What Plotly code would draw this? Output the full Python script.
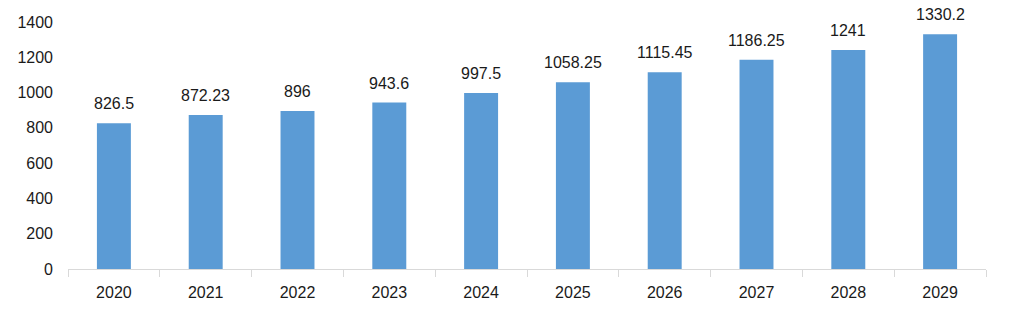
import plotly.graph_objects as go

years = ["2020", "2021", "2022", "2023", "2024", "2025", "2026", "2027", "2028", "2029"]
values = [826.5, 872.23, 896, 943.6, 997.5, 1058.25, 1115.45, 1186.25, 1241, 1330.2]
labels = ["826.5", "872.23", "896", "943.6", "997.5", "1058.25", "1115.45", "1186.25", "1241", "1330.2"]

font = dict(family="Liberation Sans, Arial, sans-serif", size=16, color="#1a1a1a")

fig = go.Figure(go.Bar(x=years, y=values, marker=dict(color="#5B9BD5", line=dict(width=0))))

for i, (y, t) in enumerate(zip(values, labels)):
    fig.add_annotation(x=i, y=y, text=t, showarrow=False, yanchor="bottom",
                       yshift=9, font=font)

fig.update_layout(
    width=1009, height=317,
    margin=dict(l=68, r=23, t=22, b=48),
    plot_bgcolor="white", paper_bgcolor="white",
    bargap=0.63, showlegend=False, font=font,
)
fig.update_xaxes(type="category", range=[-0.5, len(years) - 0.5], tickangle=0,
                 showline=True, linecolor="#d9d9d9", linewidth=1,
                 ticks="outside", tickson="boundaries", ticklen=7, tickcolor="#d9d9d9",
                 showgrid=False, tickfont=font, ticklabelstandoff=9)
fig.update_yaxes(range=[0, 1400], dtick=200, showgrid=False, zeroline=False,
                 showline=False, ticks="", tickfont=font, ticklabelstandoff=14)

fig.write_html("out.html")
